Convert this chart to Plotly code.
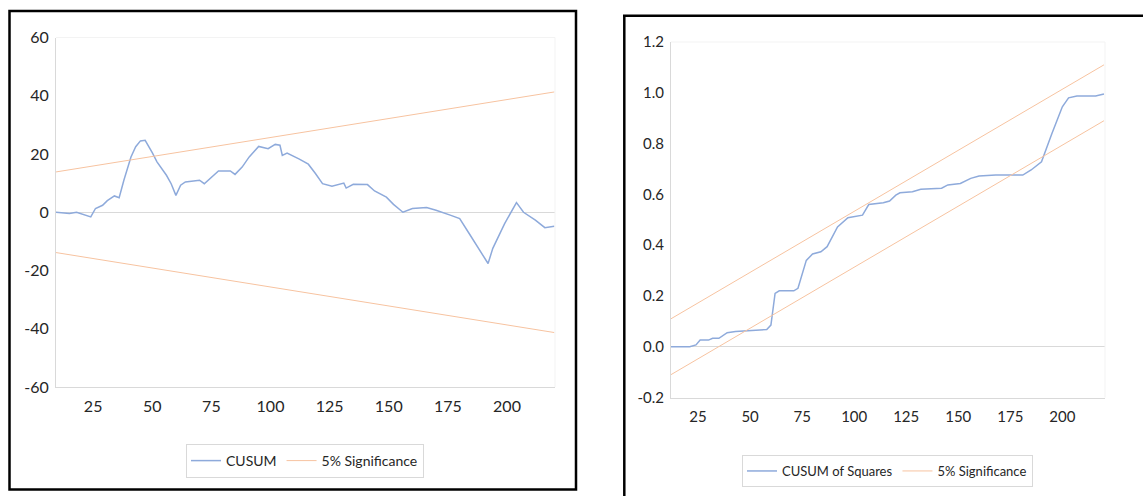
import plotly.graph_objects as go

W, H = 1143, 496

# ---------------- data ----------------
cusum_x = [9, 12, 15, 18, 20, 22, 24, 26, 29, 31, 34, 36, 38, 41, 43, 45, 47, 50, 52, 56,
           58, 60, 62, 64, 67, 70, 72, 75, 78, 83, 85, 88, 91, 95, 99, 102, 104, 105, 107,
           112, 116, 119, 122, 126, 130, 131, 132, 135, 141, 144, 149, 152, 156, 160, 166,
           170, 176, 180, 184, 188, 192, 194, 199, 204, 207, 212, 216, 220]
cusum_y = [0.0, -0.3, -0.4, 0.0, -0.6, -1.1, -1.6, 1.3, 2.4, 4.0, 5.6, 5.0, 11.0, 19.0, 22.5,
           24.5, 24.7, 20.5, 17.3, 12.7, 9.8, 5.8, 9.3, 10.4, 10.6, 11.0, 9.8, 12.1, 14.2,
           14.2, 13.0, 15.5, 19.0, 22.6, 21.8, 23.3, 23.0, 19.5, 20.3, 18.3, 16.5, 13.3, 9.8,
           8.9, 9.8, 10.0, 8.3, 9.6, 9.5, 7.3, 5.2, 2.7, 0.0, 1.3, 1.6, 0.7, -1.0, -2.2, -7.3,
           -12.4, -17.6, -12.4, -3.9, 3.3, 0.0, -2.7, -5.3, -4.8]
sig1_x = [9, 220]
sig1_upper = [13.8, 41.3]
sig1_lower = [-13.8, -41.3]

cusumsq_x = [12, 21, 24, 26, 30, 32, 35, 39, 43, 50, 58, 60, 62, 64, 71, 73, 77, 80, 84, 87,
             92, 97, 100, 104, 107, 114, 117, 120, 122, 128, 132, 142, 145, 151, 156, 160,
             168, 181, 185, 190, 195, 200, 203, 207, 216, 220]
cusumsq_y = [0.0, 0.0, 0.007, 0.026, 0.026, 0.033, 0.033, 0.055, 0.06, 0.063, 0.068, 0.085,
             0.21, 0.22, 0.22, 0.23, 0.34, 0.365, 0.374, 0.394, 0.472, 0.508, 0.512, 0.518,
             0.56, 0.567, 0.574, 0.597, 0.606, 0.61, 0.62, 0.624, 0.637, 0.643, 0.663, 0.672,
             0.676, 0.676, 0.696, 0.728, 0.84, 0.945, 0.98, 0.987, 0.987, 0.995]
sig2_x = [12, 220]
sig2_upper = [0.11, 1.11]
sig2_lower = [-0.11, 0.89]

x_ticks = [25, 50, 75, 100, 125, 150, 175, 200]
y1_ticks = [-60, -40, -20, 0, 20, 40, 60]
y1_labels = ["-60", "-40", "-20", "0", "20", "40", "60"]
y2_ticks = [-0.2, 0.0, 0.2, 0.4, 0.6, 0.8, 1.0, 1.2]
y2_labels = ["-0.2", "0.0", "0.2", "0.4", "0.6", "0.8", "1.0", "1.2"]

BLUE = "#8eaadb"
ORANGE = "#f7c3a0"
FONT = "Lato, 'Liberation Sans Narrow', sans-serif"
TXT = "#262626"
AX = "#d9d9d9"


def px(x):
    return x / W


def py(y):
    return 1 - y / H


fig = go.Figure()

# left panel
fig.add_trace(go.Scatter(x=cusum_x, y=cusum_y, mode="lines", name="CUSUM",
                         line=dict(color=BLUE, width=1.5), xaxis="x", yaxis="y",
                         legend="legend"))
fig.add_trace(go.Scatter(x=sig1_x, y=sig1_upper, mode="lines", name="5% Significance",
                         line=dict(color=ORANGE, width=1), xaxis="x", yaxis="y",
                         legend="legend", legendgroup="s1"))
fig.add_trace(go.Scatter(x=sig1_x, y=sig1_lower, mode="lines", name="5% Significance",
                         line=dict(color=ORANGE, width=1), xaxis="x", yaxis="y",
                         legend="legend", legendgroup="s1", showlegend=False))

# right panel
fig.add_trace(go.Scatter(x=cusumsq_x, y=cusumsq_y, mode="lines", name="CUSUM of Squares",
                         line=dict(color=BLUE, width=1.5), xaxis="x2", yaxis="y2",
                         legend="legend2"))
fig.add_trace(go.Scatter(x=sig2_x, y=sig2_upper, mode="lines", name="5% Significance",
                         line=dict(color=ORANGE, width=1), xaxis="x2", yaxis="y2",
                         legend="legend2", legendgroup="s2"))
fig.add_trace(go.Scatter(x=sig2_x, y=sig2_lower, mode="lines", name="5% Significance",
                         line=dict(color=ORANGE, width=1), xaxis="x2", yaxis="y2",
                         legend="legend2", legendgroup="s2", showlegend=False))

common_x = dict(showgrid=False, zeroline=False, showline=True, linecolor=AX, linewidth=1,
                ticks="outside", ticklen=5, tickcolor="rgba(0,0,0,0)", automargin=False,
                tickvals=x_ticks, ticktext=[str(v) for v in x_ticks])
common_y = dict(showgrid=False, zeroline=True, zerolinecolor=AX, zerolinewidth=1,
                showline=True, linecolor=AX, linewidth=1, automargin=False,
                ticks="outside", ticklen=3, tickcolor="rgba(0,0,0,0)")

fig.update_layout(
    width=W, height=H, autosize=False,
    margin=dict(l=0, r=0, t=0, b=0, autoexpand=False),
    paper_bgcolor="white", plot_bgcolor="white",
    font=dict(family=FONT, color=TXT),
    xaxis=dict(domain=[px(56), px(555)], range=[9.3, 220.3], anchor="y",
               tickfont=dict(size=16, family=FONT, color=TXT), **common_x),
    yaxis=dict(domain=[py(387), py(37.5)], range=[-60, 60], anchor="x",
               tickvals=y1_ticks, ticktext=y1_labels,
               tickfont=dict(size=16, family=FONT, color=TXT), **common_y),
    xaxis2=dict(domain=[px(671), px(1105)], range=[12, 220.5], anchor="y2",
                tickfont=dict(size=15, family=FONT, color=TXT), **common_x),
    yaxis2=dict(domain=[py(397.5), py(42)], range=[-0.2, 1.2], anchor="x2",
                tickvals=y2_ticks, ticktext=y2_labels,
                tickfont=dict(size=15, family=FONT, color=TXT), **common_y),
    legend=dict(orientation="h", x=px(305), xanchor="center", y=py(444), yanchor="top",
                bordercolor=AX, borderwidth=1, bgcolor="white",
                font=dict(size=14, family=FONT, color=TXT), itemwidth=30),
    legend2=dict(orientation="h", x=px(887.5), xanchor="center", y=py(455), yanchor="top",
                 bordercolor=AX, borderwidth=1, bgcolor="white",
                 font=dict(size=13, family=FONT, color=TXT), itemwidth=30),
    showlegend=True,
)

shapes = [
    # left panel frame
    dict(type="rect", xref="paper", yref="paper", x0=px(9.5), x1=px(576), y0=py(489.5), y1=py(11),
         line=dict(color="black", width=2.5), fillcolor="rgba(0,0,0,0)", layer="above"),
    # right panel frame (cropped on right and bottom)
    dict(type="line", xref="paper", yref="paper", x0=px(624.3), x1=px(624.3), y0=py(500), y1=py(15.8),
         line=dict(color="black", width=2.5)),
    dict(type="line", xref="paper", yref="paper", x0=px(623), x1=px(1150), y0=py(15.8), y1=py(15.8),
         line=dict(color="black", width=2.5)),
    # faint plot-area borders (top / right)
    dict(type="line", xref="paper", yref="paper", x0=px(56), x1=px(555), y0=py(37.5), y1=py(37.5),
         line=dict(color="#f3f3f3", width=1)),
    dict(type="line", xref="paper", yref="paper", x0=px(555), x1=px(555), y0=py(387), y1=py(37.5),
         line=dict(color="#f3f3f3", width=1)),
    dict(type="line", xref="paper", yref="paper", x0=px(671), x1=px(1105), y0=py(42), y1=py(42),
         line=dict(color="#f3f3f3", width=1)),
    dict(type="line", xref="paper", yref="paper", x0=px(1105), x1=px(1105), y0=py(397.5), y1=py(42),
         line=dict(color="#f3f3f3", width=1)),
]
fig.update_layout(shapes=shapes)

fig.write_html("out.html")
